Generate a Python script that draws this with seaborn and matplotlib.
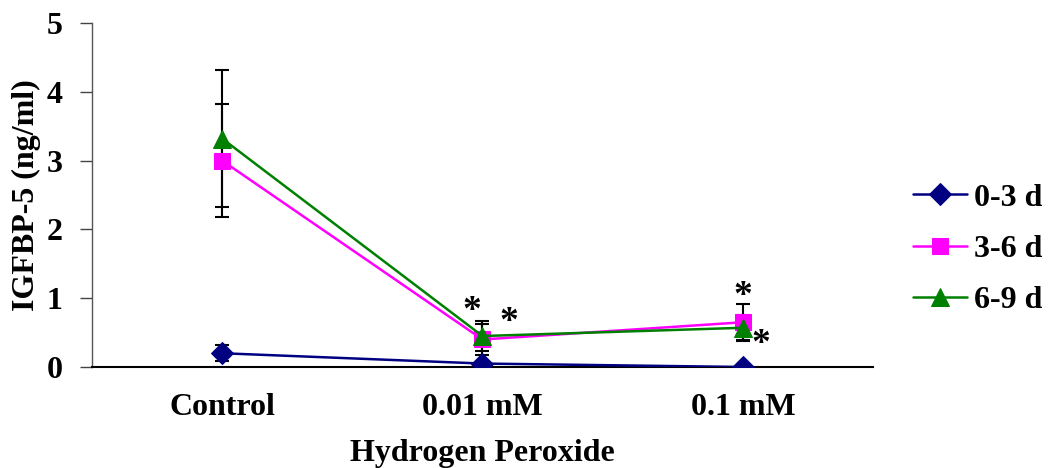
import matplotlib
matplotlib.use("Agg")
import matplotlib.pyplot as plt
import seaborn as sns
import pandas as pd
import numpy as np

categories = ["Control", "0.01 mM", "0.1 mM"]
series_names = ["0-3 d", "3-6 d", "6-9 d"]
vals_03 = [0.20, 0.05, 0.00]
vals_36 = [3.00, 0.40, 0.65]
vals_69 = [3.32, 0.45, 0.57]
err_03 = [0.12, 0.0, 0.0]
err_36 = [0.82, 0.22, 0.26]
err_69 = [1.00, 0.22, 0.19]
yticks = [0, 1, 2, 3, 4, 5]
# significance asterisks (x in category units, y in data units)
star_x = [0.96, 1.10, 2.0, 2.07]
star_y = [0.80, 0.64, 1.03, 0.32]

colors = ["#000080", "#FF00FF", "#008000"]
markers = ["D", "s", "^"]
msizes = [11, 12, 13]

sns.set_theme(style="white")
plt.rcParams["font.family"] = ["Liberation Serif", "DejaVu Serif"]
plt.rcParams["font.weight"] = "bold"
plt.rcParams["text.color"] = "black"
plt.rcParams["axes.labelcolor"] = "black"
plt.rcParams["xtick.color"] = "black"
plt.rcParams["ytick.color"] = "black"

FS = 23

fig = plt.figure(figsize=(10.49, 4.68), dpi=100)
ax = fig.add_axes([92/1049, 1-367/468, (873-92)/1049, (367-23)/468])

allvals = [vals_03, vals_36, vals_69]
allerrs = [err_03, err_36, err_69]
xs = np.arange(len(categories))
for name, v, e, c, m, ms in zip(series_names, allvals, allerrs, colors, markers, msizes):
    df = pd.DataFrame({"x": xs, "y": v})
    ax.errorbar(df["x"], df["y"], yerr=e, fmt="none", ecolor="black",
                elinewidth=1.5, capsize=5, capthick=1.5, zorder=2)
    sns.lineplot(data=df, x="x", y="y", ax=ax, color=c, marker=m,
                 markersize=ms, markeredgecolor=c, linewidth=1.8,
                 label=name, zorder=3)

for sx, sy in zip(star_x, star_y):
    ax.text(sx, sy, "*", ha="center", va="center", fontsize=27,
            fontweight="bold", color="black")

ax.set_xlim(-0.5, 2.5)
ax.set_ylim(0, 5)
ax.set_xticks(xs)
ax.set_xticklabels(categories, fontsize=FS, fontweight="bold")
ax.set_yticks(yticks)
ax.set_yticklabels([str(t) for t in yticks], fontsize=FS, fontweight="bold")
ax.tick_params(axis="x", length=0, pad=19)
ax.tick_params(axis="y", length=9, width=1, color="#444444", pad=12, direction="out", left=True)
ax.set_xlabel("Hydrogen Peroxide", fontsize=FS, fontweight="bold", labelpad=12)
ax.set_ylabel("IGFBP-5 (ng/ml)", fontsize=FS, fontweight="bold", labelpad=4)

for s in ["top", "right"]:
    ax.spines[s].set_visible(False)
ax.spines["left"].set_color("#555555")
ax.spines["left"].set_linewidth(1)
ax.spines["bottom"].set_color("black")
ax.spines["bottom"].set_linewidth(1.5)
ax.grid(False)

leg = ax.legend(loc="center left", bbox_to_anchor=(913/1049, 1-249/468),
                bbox_transform=fig.transFigure, frameon=False,
                fontsize=FS, handlelength=1.7, labelspacing=0.68,
                handletextpad=0.2, borderpad=0, borderaxespad=0)
for t in leg.get_texts():
    t.set_fontweight("bold")

fig.savefig("out.png", dpi=100)
